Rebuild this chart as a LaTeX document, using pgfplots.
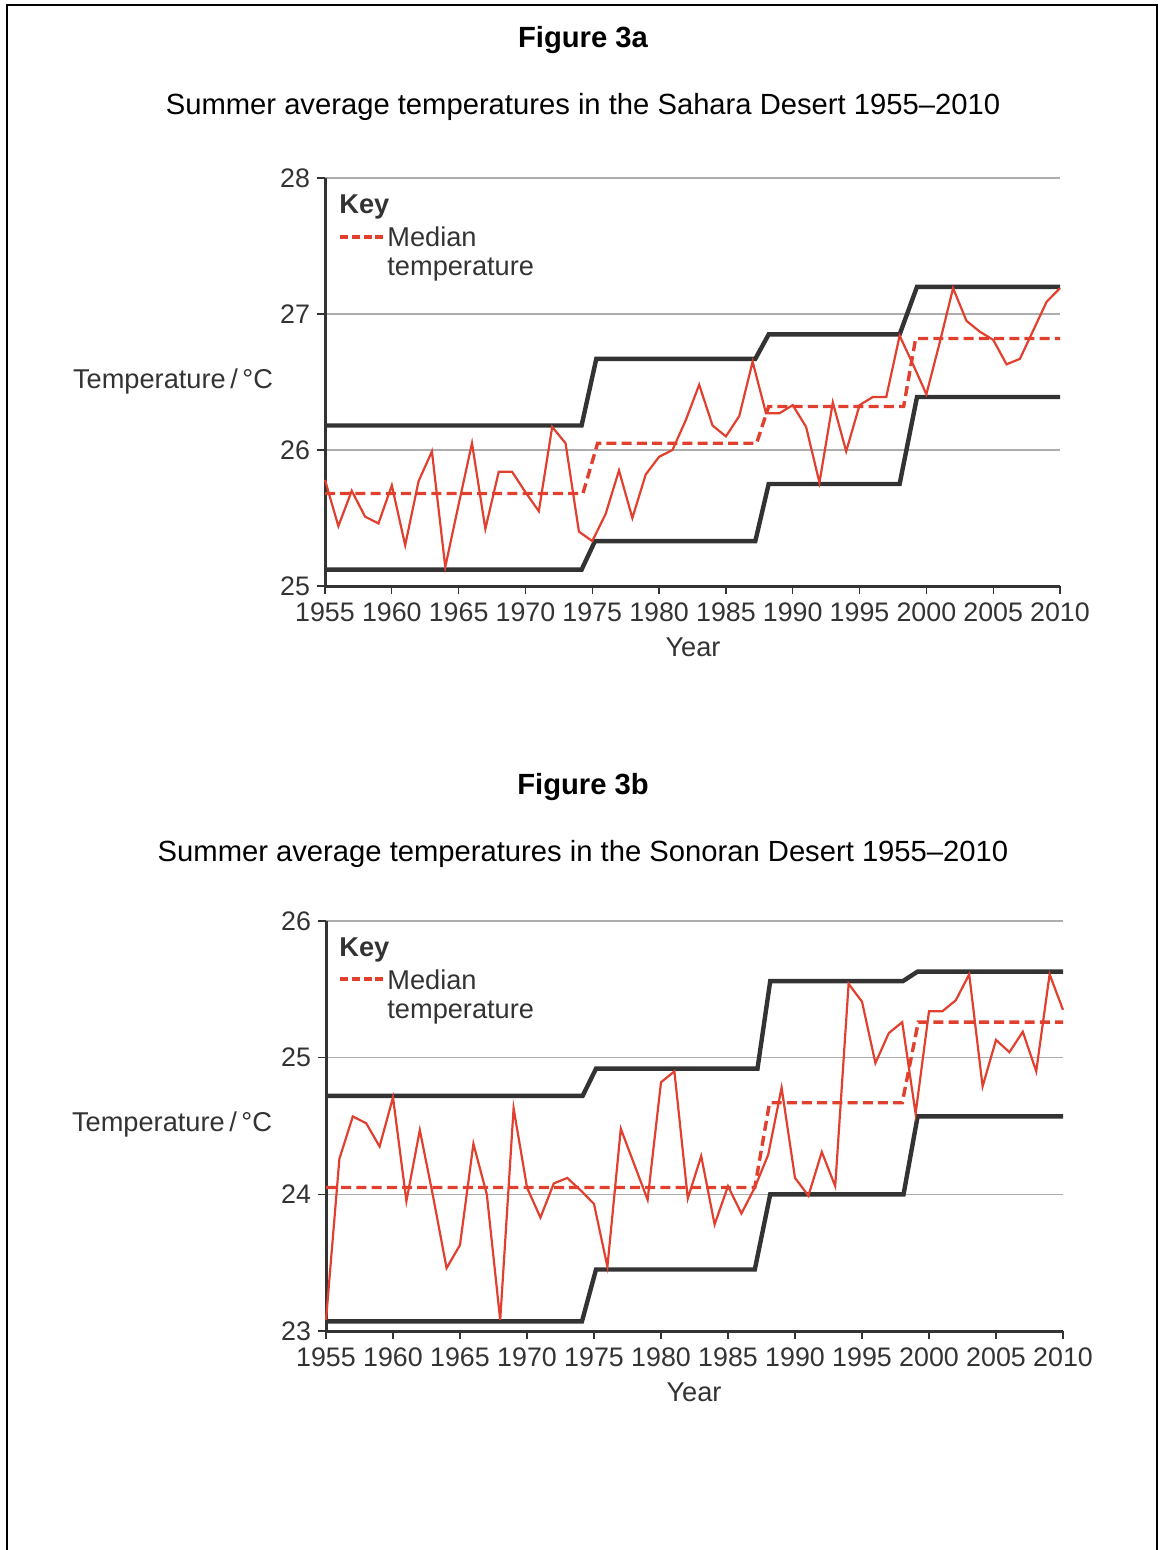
\documentclass[border=0pt]{standalone}
\usepackage{fontspec}
\setmainfont{Liberation Sans}
\usepackage{pgfplots}
\pgfplotsset{compat=1.18}
\definecolor{redl}{HTML}{E2402F}
\definecolor{dk}{HTML}{333333}
\pgfplotsset{myax/.style={
  scale only axis, anchor=south west,
  xmin=1955, xmax=2010,
  xtick={1955,1960,...,2010},
  axis x line*=bottom, axis y line*=left,
  axis line style={dk, line width=1.5pt},
  tick align=outside, major tick length=4pt,
  tick style={dk, line width=0.6pt},
  ymajorgrids, grid style={black!32, line width=0.7pt},
  tick label style={font=\fontsize{13.4}{15}\selectfont, text=dk},
  xticklabel style={/pgf/number format/1000 sep={}, yshift=-1pt},
  /pgf/number format/assume math mode=true,
  clip=false,
}}
\pgfplotstableread{
year t
1955 25.78
1956 25.44
1957 25.70
1958 25.51
1959 25.46
1960 25.74
1961 25.30
1962 25.77
1963 25.99
1964 25.14
1965 25.60
1966 26.05
1967 25.42
1968 25.84
1969 25.84
1970 25.69
1971 25.55
1972 26.17
1973 26.05
1974 25.40
1975 25.33
1976 25.53
1977 25.85
1978 25.50
1979 25.82
1980 25.95
1981 26.00
1982 26.22
1983 26.48
1984 26.18
1985 26.10
1986 26.25
1987 26.65
1988 26.27
1989 26.27
1990 26.33
1991 26.17
1992 25.76
1993 26.35
1994 25.99
1995 26.33
1996 26.39
1997 26.39
1998 26.84
1999 26.63
2000 26.41
2001 26.79
2002 27.19
2003 26.95
2004 26.87
2005 26.81
2006 26.63
2007 26.67
2008 26.88
2009 27.09
2010 27.19
}\sahara
\pgfplotstableread{
year t
1955 23.08
1956 24.26
1957 24.57
1958 24.52
1959 24.35
1960 24.71
1961 23.95
1962 24.47
1963 23.98
1964 23.46
1965 23.63
1966 24.37
1967 24.00
1968 23.08
1969 24.63
1970 24.05
1971 23.83
1972 24.08
1973 24.12
1974 24.03
1975 23.93
1976 23.47
1977 24.48
1978 24.22
1979 23.96
1980 24.82
1981 24.90
1982 23.97
1983 24.28
1984 23.78
1985 24.06
1986 23.86
1987 24.05
1988 24.29
1989 24.78
1990 24.12
1991 23.99
1992 24.31
1993 24.06
1994 25.54
1995 25.41
1996 24.96
1997 25.18
1998 25.26
1999 24.59
2000 25.34
2001 25.34
2002 25.42
2003 25.61
2004 24.79
2005 25.13
2006 25.04
2007 25.19
2008 24.90
2009 25.61
2010 25.35
}\sonoran
\begin{document}
\begin{tikzpicture}[x=0.5pt,y=-0.5pt]
\path[use as bounding box] (0,0) rectangle (1160,1550);
\draw[line width=1pt] (7,1552) -- (7,5) -- (1157,5) -- (1157,1552);
\tikzset{tt/.style={font=\fontsize{14.6}{17}\selectfont, inner sep=0pt},
         lt/.style={font=\fontsize{13.6}{16}\selectfont, text=dk, inner sep=0pt},
         kd/.style={redl, line width=1.6pt, dash pattern=on 4pt off 1.9pt}}
% Figure 3a
\node[tt,font=\fontsize{14.6}{17}\selectfont\bfseries] at (583,40) {Figure 3a};
\node[tt] at (583,107) {Summer average temperatures in the Sahara Desert 1955–2010};
\begin{axis}[myax, at={(162.5pt,-293pt)}, width=367.5pt, height=204pt,
  ymin=25, ymax=28, ytick={25,26,27,28}]
\addplot[dk, line width=2.2pt] coordinates {(1955,25.12) (1974.2,25.12) (1975.2,25.33) (1987.2,25.33) (1988.2,25.75) (1998,25.75) (1999.3,26.39) (2010,26.39)};
\addplot[dk, line width=2.2pt] coordinates {(1955,26.18) (1974.2,26.18) (1975.3,26.67) (1987.2,26.67) (1988.2,26.85) (1998,26.85) (1999.3,27.2) (2010,27.2)};
\addplot[redl, line width=1.7pt, dash pattern=on 5pt off 2.6pt] coordinates {(1955,25.68) (1974.3,25.68) (1975.4,26.05) (1987.3,26.05) (1988.2,26.32) (1998.3,26.32) (1999.2,26.82) (2010,26.82)};
\addplot[redl, line width=1.1pt] table[x=year,y=t] {\sahara};
\end{axis}
\node[lt] at (173,381) {Temperature\,/\,°C};
\node[lt] at (693,647) {Year};
\node[lt,font=\fontsize{13.6}{16}\selectfont\bfseries,anchor=base west] at (339,214) {Key};
\draw[kd] (340,237) -- (384,237);
\node[lt,anchor=base west] at (387,247) {Median};
\node[lt,anchor=base west] at (387,276) {temperature};
% Figure 3b
\node[tt,font=\fontsize{14.6}{17}\selectfont\bfseries] at (583,787) {Figure 3b};
\node[tt] at (583,854) {Summer average temperatures in the Sonoran Desert 1955–2010};
\begin{axis}[myax, at={(163pt,-665.5pt)}, width=368.5pt, height=205pt,
  ymin=23, ymax=26, ytick={23,24,25,26}]
\addplot[dk, line width=2.2pt] coordinates {(1955,23.07) (1974.1,23.07) (1975.15,23.45) (1987,23.45) (1988.15,24.0) (1998.1,24.0) (1999.15,24.57) (2010,24.57)};
\addplot[dk, line width=2.2pt] coordinates {(1955,24.72) (1974.15,24.72) (1975.15,24.92) (1987.2,24.92) (1988.15,25.56) (1998.05,25.56) (1999.15,25.63) (2010,25.63)};
\addplot[redl, line width=1.7pt, dash pattern=on 5pt off 2.6pt] coordinates {(1955,24.05) (1987,24.05) (1988.1,24.67) (1998,24.67) (1999.2,25.26) (2010,25.26)};
\addplot[redl, line width=1.1pt] table[x=year,y=t] {\sonoran};
\end{axis}
\node[lt] at (172,1124) {Temperature\,/\,°C};
\node[lt] at (694,1392) {Year};
\node[lt,font=\fontsize{13.6}{16}\selectfont\bfseries,anchor=base west] at (339,956) {Key};
\draw[kd] (340,979) -- (384,979);
\node[lt,anchor=base west] at (387,989) {Median};
\node[lt,anchor=base west] at (387,1018) {temperature};
\end{tikzpicture}
\end{document}
